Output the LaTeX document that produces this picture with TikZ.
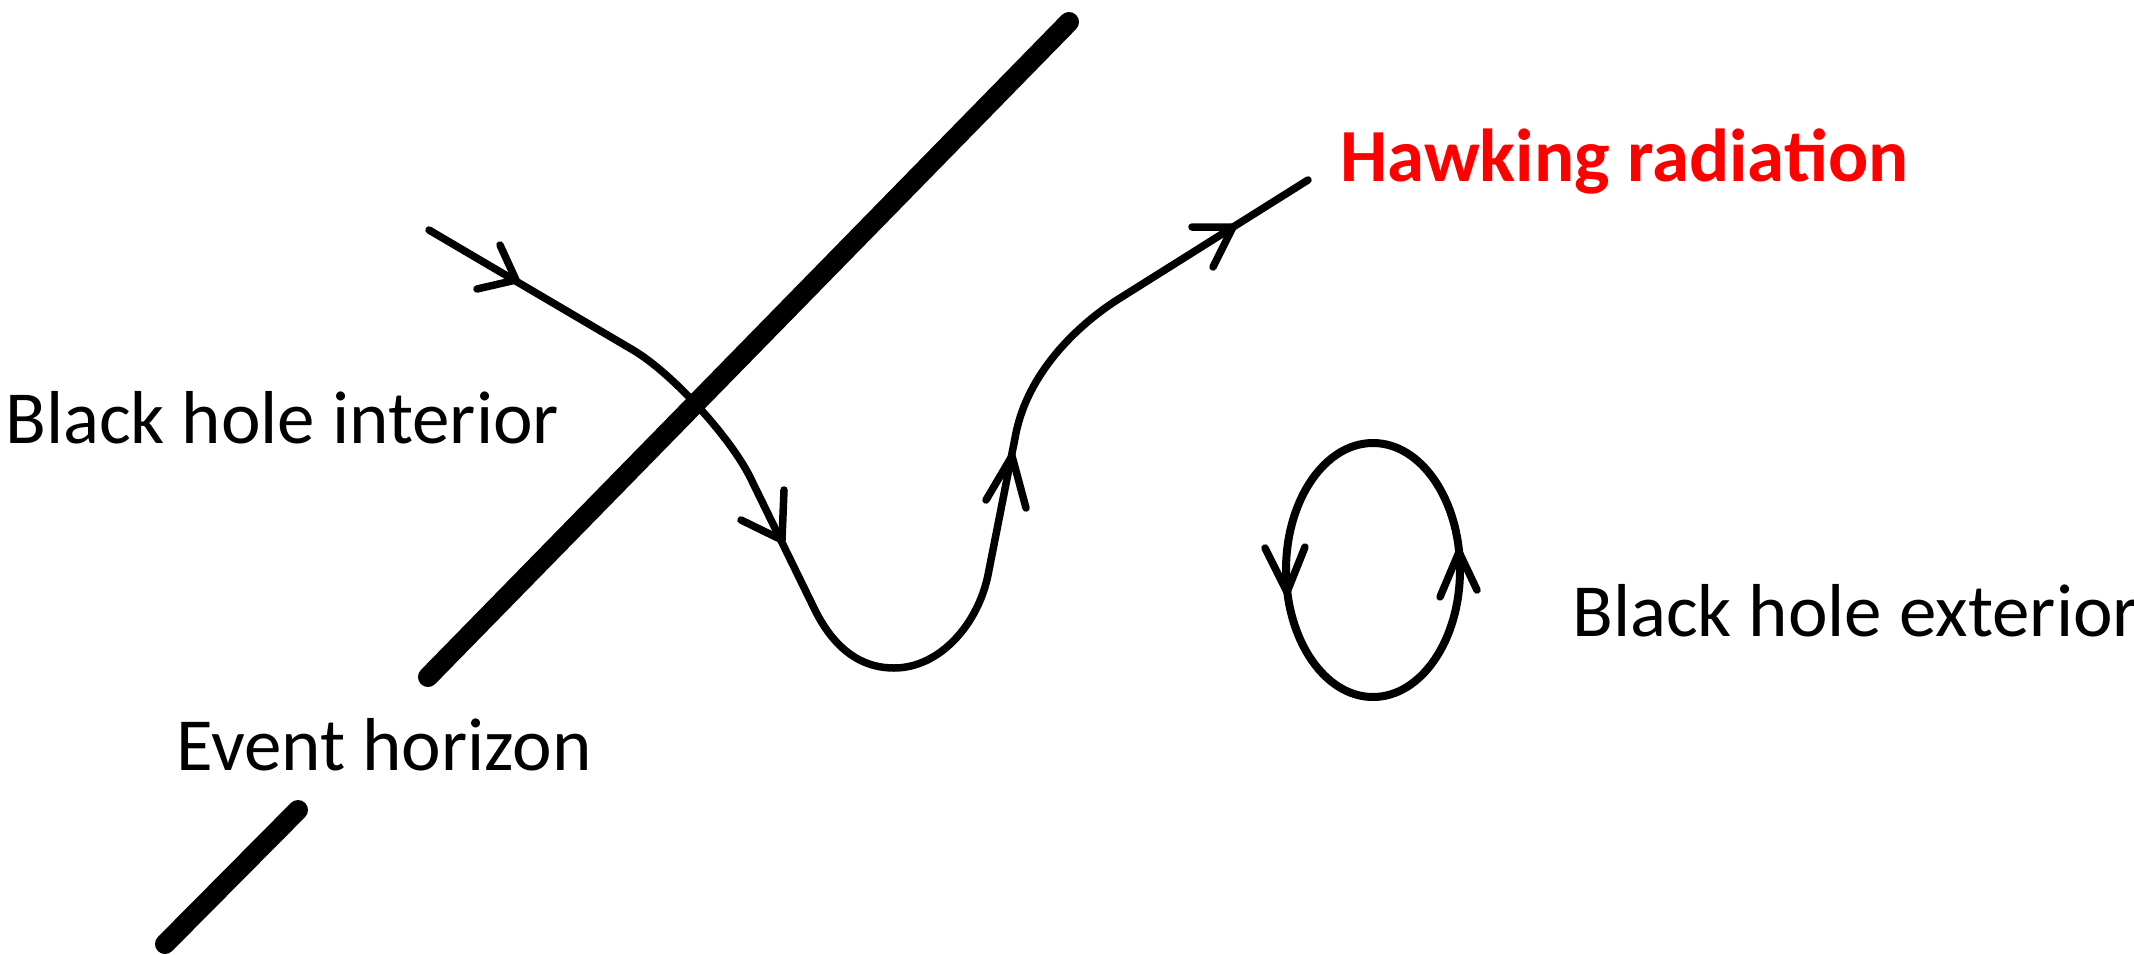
\documentclass[tikz,border=0pt]{standalone}
\usepackage{fontspec}
\setmainfont{Carlito}
\begin{document}
\begin{tikzpicture}[x=1pt,y=-1pt,
  pathline/.style={line width=7.5pt, line cap=round, line join=round},
  horizon/.style={line width=20pt, line cap=round},
  barb/.style={line width=7.5pt, line cap=round, line join=round},
  loopline/.style={line width=8pt},
  lbl/.style={anchor=base west, inner sep=0pt, font=\fontsize{75}{90}\selectfont}]
\useasboundingbox (0,0) rectangle (2134,954);
% event horizon
\coordinate (h1) at (428,677);
\coordinate (h2) at (1069,22);
\coordinate (h3) at (165,944);
\coordinate (h4) at (298,810);
\draw[horizon] (h1) -- (h2);
\draw[horizon] (h3) -- (h4);
% particle path
\coordinate (p0) at (429,230);
\coordinate (p1) at (633,350);
\coordinate (p2) at (750,477);
\coordinate (p3) at (814,608);
\coordinate (pb) at (894,668);
\coordinate (p4) at (988,575);
\coordinate (p5) at (1016,433);
\coordinate (p6) at (1117,300);
\coordinate (p7) at (1308,180);
\draw[pathline] (p0) -- (p1)
  .. controls (672,373) and (730,437) .. (p2) -- (p3)
  .. controls (828,637) and (852,668) .. (pb)
  .. controls (940,668) and (978,624) .. (p4) -- (p5)
  .. controls (1028,374) and (1075,327) .. (p6) -- (p7);
% arrow barbs on path
\coordinate (t1) at (516,280);
\draw[barb] (500,245) -- (t1) -- (477,289);
\coordinate (t2) at (782,540);
\draw[barb] (784,490) -- (t2) -- (741,520);
\coordinate (t3) at (1012,456);
\draw[barb] (986,500) -- (t3) -- (1026,508);
\coordinate (t4) at (1233,227);
\draw[barb] (1192,227) -- (t4) -- (1213,267);
% virtual pair loop
\coordinate (lc) at (1373,570);
\draw[loopline] (lc) ellipse [x radius=87, y radius=127];
\coordinate (e1) at (1287,592);
\draw[barb] (1265,548) -- (e1) -- (1305,547);
\coordinate (e2) at (1459,552);
\draw[barb] (1440,597) -- (e2) -- (1477,590);
% labels
\node[lbl] (interior) at (5,443) {Black hole interior};
\node[lbl] (horizonlbl) at (176,770) {Event horizon};
\node[lbl] (exterior) at (1572,636) {Black hole exterior};
\node[lbl, text=red, font=\fontsize{75}{90}\selectfont\bfseries] (hawking) at (1340,181) {Hawking radiation};
\end{tikzpicture}
\end{document}
